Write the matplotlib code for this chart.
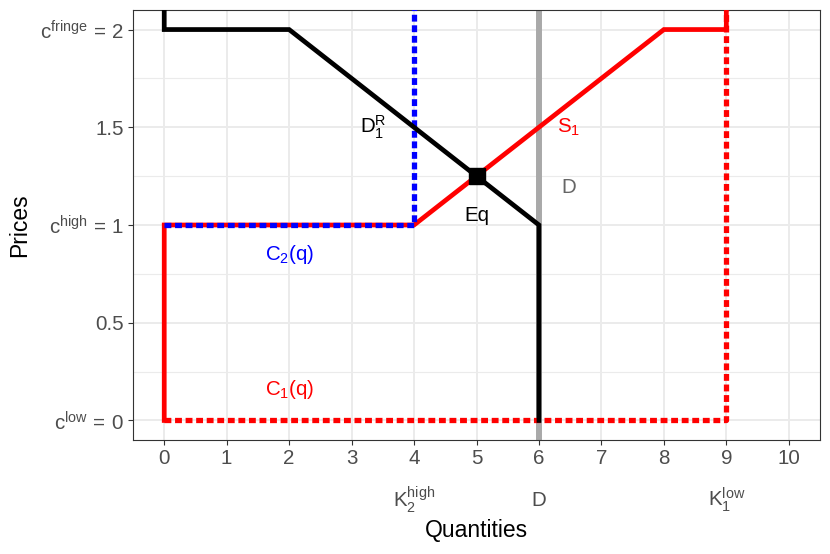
import matplotlib
matplotlib.use("Agg")
import matplotlib.pyplot as plt

plt.rcParams['font.family'] = ['Liberation Sans', 'DejaVu Sans']
plt.rcParams['mathtext.fontset'] = 'custom'
plt.rcParams['mathtext.rm'] = 'Liberation Sans'
plt.rcParams['mathtext.it'] = 'Liberation Sans'
plt.rcParams['mathtext.bf'] = 'Liberation Sans:bold'

# ---- data ----
demand_x = [0, 0, 2, 6, 6]
demand_y = [2.3, 2, 2, 1, 0]
supply_x = [0, 0, 4, 8, 9, 9]
supply_y = [0, 1, 1, 2, 2, 2.3]
c1_x = [0, 9, 9]
c1_y = [0, 0, 2.3]
c2_x = [0, 4, 4]
c2_y = [1, 1, 2.3]
market_demand = 6
eq_x, eq_y = 5, 1.25

x_ticks = list(range(0, 11))
y_ticks = [0, 0.5, 1, 1.5, 2]
y_tick_labels = [r'$\mathregular{c^{low}\,=\,0}$', '0.5', r'$\mathregular{c^{high}\,=\,1}$', '1.5',
                 r'$\mathregular{c^{fringe}\,=\,2}$']
x_extra_pos = [4, 6, 9]
x_extra_labels = [r'$\mathregular{K_2^{high}}$', 'D', r'$\mathregular{K_1^{low}}$']

fig = plt.figure(figsize=(8.3, 5.54), dpi=100)
ax = fig.add_axes([133/830, 1-440/554, (820-133)/830, (440-10)/554])

ax.set_xlim(-0.5, 10.5)
ax.set_ylim(-0.1, 2.1)

# grid
for y in [0.25, 0.75, 1.25, 1.75]:
    ax.axhline(y, color='#EBEBEB', lw=0.8, zorder=0)
for y in y_ticks:
    ax.axhline(y, color='#EBEBEB', lw=1.4, zorder=0)
for x in x_ticks:
    ax.axvline(x, color='#EBEBEB', lw=1.4, zorder=0)

ax.axvline(market_demand, color='#A9A9A9', lw=4.3, zorder=1)

dot = (0, (1.3, 0.7))
ax.plot(c1_x, c1_y, color='red', lw=3.8, ls=dot, dash_capstyle='butt', zorder=2)
ax.plot(supply_x, supply_y, color='red', lw=3.4, solid_joinstyle='miter', zorder=3)
ax.plot(c2_x, c2_y, color='blue', lw=3.8, ls=dot, dash_capstyle='butt', zorder=4)
ax.plot(demand_x, demand_y, color='black', lw=3.4, solid_joinstyle='miter', zorder=5)
ax.plot([eq_x], [eq_y], marker='s', color='black', markersize=12, zorder=6)

fs = 14.8
ax.text(3.35, 1.5, r'$\mathregular{D_1^R}$', color='black', fontsize=fs, ha='center', va='center')
ax.text(6.47, 1.5, r'$\mathregular{S_1}$', color='red', fontsize=fs, ha='center', va='center')
ax.text(6.47, 1.19, 'D', color='#666666', fontsize=fs, ha='center', va='center')
ax.text(5.0, 1.05, 'Eq', color='black', fontsize=fs, ha='center', va='center')
ax.text(2.0, 0.85, r'$\mathregular{C_2(q)}$', color='blue', fontsize=fs, ha='center', va='center')
ax.text(2.0, 0.16, r'$\mathregular{C_1(q)}$', color='red', fontsize=fs, ha='center', va='center')

ax.set_xticks(x_ticks)
ax.set_xticklabels([str(v) for v in x_ticks])
ax.set_yticks(y_ticks)
ax.set_yticklabels(y_tick_labels)
ax.tick_params(axis='both', colors='#333333', labelcolor='#4D4D4D', labelsize=fs,
               length=3.5, width=0.8, pad=3)

for s in ax.spines.values():
    s.set_color('#333333')
    s.set_linewidth(0.8)

for xp, lab in zip(x_extra_pos, x_extra_labels):
    ax.annotate(lab, xy=(xp, 0), xycoords=('data', 'axes fraction'),
                xytext=(0, -60), textcoords='offset pixels',
                ha='center', va='center', fontsize=fs, color='#4D4D4D',
                annotation_clip=False)

fig.text(476.5/830, 1-531/554, 'Quantities', fontsize=16.5, ha='center', va='center')
fig.text(20/830, 1-225/554, 'Prices', fontsize=16.5, ha='center', va='center', rotation=90)

fig.savefig('out.png', dpi=100)
